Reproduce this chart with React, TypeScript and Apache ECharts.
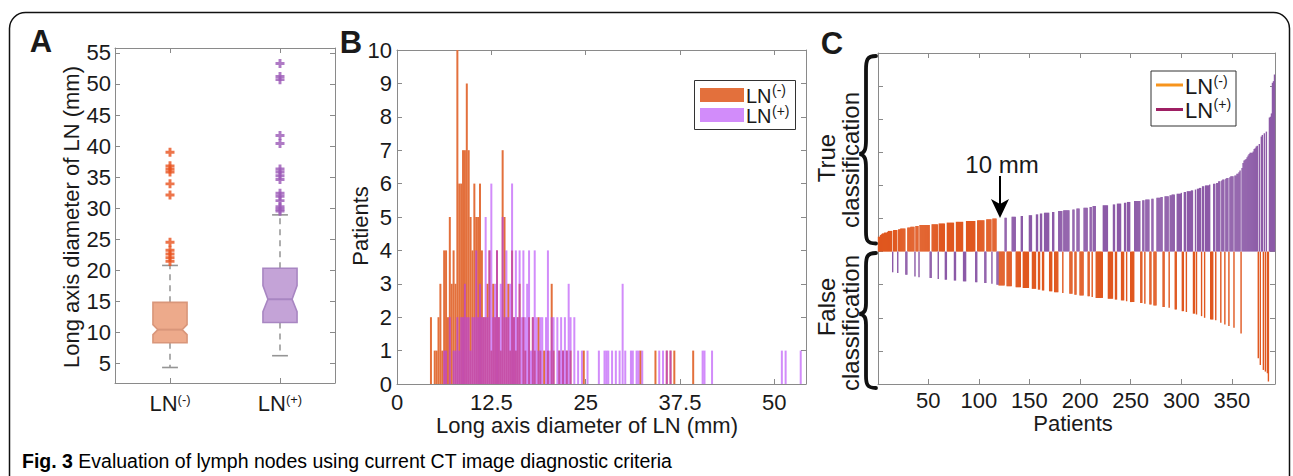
import React, { useEffect, useRef } from 'react';
import * as echarts from 'echarts';

const FONT = '"Liberation Sans", Arial, Helvetica, sans-serif';
const NARROW = '"Liberation Sans Narrow", "Liberation Sans", Arial, sans-serif';

// ---------- Panel A : notched box plots ----------
const boxCategories = ['LN(-)', 'LN(+)'];
const boxLow = [4.3, 6.2];
const boxQ1 = [8.3, 11.55];
const boxNotchLo = [9.6, 13.3];
const boxMedian = [10.4, 15.3];
const boxNotchHi = [11.2, 17.5];
const boxQ3 = [14.8, 20.3];
const boxHigh = [20.75, 28.9];
const outliersNeg = [21.4, 22.0, 22.6, 23.2, 24.5, 32.1, 33.9, 35.8, 36.3, 36.8, 39.0];
const outliersPos = [29.5, 29.8, 30.2, 31.2, 31.9, 32.4, 34.6, 35.2, 35.8, 36.3, 40.4, 41.7, 50.7, 51.2, 53.3];
const yTicksA = [5, 10, 15, 20, 25, 30, 35, 40, 45, 50, 55];

// ---------- Panel B : histogram (diameter mm, patient count) ----------
const histNeg: [number, number][] = [
  [4.5, 2], [5.0, 1], [5.25, 1], [5.5, 2], [5.75, 3], [6.0, 1], [6.25, 4], [6.5, 4], [6.75, 2],
  [7.0, 5], [7.25, 3], [7.5, 4], [7.75, 3], [8.0, 10], [8.25, 6], [8.5, 6], [8.75, 7], [9.0, 7],
  [9.25, 9], [9.5, 7], [9.75, 5], [10.0, 4], [10.25, 6], [10.5, 5], [10.75, 5], [11.0, 6],
  [11.25, 4], [11.5, 2], [11.75, 2], [12.0, 3], [12.25, 4], [12.5, 1], [12.75, 3], [13.0, 2],
  [13.25, 4], [13.5, 2], [13.75, 1], [14.0, 7], [14.25, 5], [14.5, 2], [14.75, 3], [15.0, 1],
  [15.25, 4], [15.5, 2], [15.75, 1], [16.0, 2], [16.25, 3], [16.75, 2], [17.0, 1], [17.5, 2],
  [18.0, 2], [18.25, 1], [18.75, 2], [19.0, 1], [19.5, 1], [20.0, 1], [20.5, 3], [20.75, 1],
  [21.5, 1], [22.0, 1], [22.5, 1], [23.0, 1], [24.75, 1], [32.25, 1], [34.25, 1], [35.75, 1],
  [36.25, 1], [36.75, 1], [39.25, 1],
];
const histPos: [number, number][] = [
  [6.25, 1], [6.5, 1], [7.0, 2], [7.5, 1], [7.75, 1], [8.0, 2], [8.25, 1], [8.5, 2], [8.75, 2],
  [9.0, 3], [9.25, 2], [9.5, 2], [9.75, 1], [10.0, 2], [10.25, 2], [10.5, 4], [10.75, 2],
  [11.0, 3], [11.25, 2], [11.5, 2], [11.75, 5], [12.0, 2], [12.25, 4], [12.5, 6], [12.75, 2],
  [13.0, 3], [13.25, 4], [13.5, 2], [13.75, 3], [14.0, 5], [14.25, 2], [14.5, 4], [14.75, 2],
  [15.0, 3], [15.25, 6], [15.5, 2], [15.75, 4], [16.0, 2], [16.25, 4], [16.5, 2], [16.75, 4],
  [17.0, 2], [17.25, 3], [17.5, 4], [17.75, 1], [18.0, 2], [18.25, 4], [18.5, 2], [18.75, 1],
  [19.0, 2], [19.25, 2], [19.75, 2], [20.0, 4], [20.25, 1], [20.5, 2], [20.75, 2], [21.25, 2],
  [21.5, 1], [21.75, 2], [22.0, 1], [22.25, 2], [22.5, 1], [22.75, 3], [23.0, 2], [23.5, 2],
  [24.0, 1], [24.5, 1], [25.25, 1], [26.75, 1], [27.5, 1], [27.75, 1], [28.0, 1], [28.5, 1],
  [29.0, 1], [29.5, 1], [29.9, 3], [30.25, 1], [31.0, 1], [31.25, 1], [31.75, 1], [32.0, 1],
  [32.5, 1], [34.75, 1], [35.25, 1], [35.75, 1], [36.25, 1], [40.5, 1], [40.75, 1], [41.75, 1],
  [51.0, 1], [51.5, 1], [53.5, 1],
];
const xTicksB = [0, 12.5, 25, 37.5, 50];

// ---------- Panel C : patients sorted by diameter ----------
const xTicksC = [50, 100, 150, 200, 250, 300, 350];
const thresholdMm = 10;

// colours
const boxFill = ['#EDAA8B', '#C4A3D7'];
const boxStroke = ['#D9967A', '#A886C2'];
const outlierColor = ['#E8531E', '#9B59B6'];
const histNegColor = '#E3703C';
const histPosColor = 'rgba(178,57,247,0.58)';
const barNegColor = '#E0571F';
const barPosColor = '#8C5AA7';
const axisGray = '#8a8a8a';
const textColor = '#1a1a1a';

const braceTrueD =
  'M876,56 C867,56 866,60 866,70 L866,140 C866,149 865,153 859.5,154 C865,155 866,159 866,168 L866,232 C866,240 867,243.5 876,243.5';
const braceFalseD =
  'M876,253 C867,253 866,257 866,266 L866,303 C866,310 865,313 859.5,314 C865,315 866,318 866,325 L866,376 C866,384 867,388 876,388';

let shapesRegistered = false;
function registerShapes() {
  if (shapesRegistered) return;
  echarts.graphic.registerShape('braceTrue', echarts.graphic.extendPath(braceTrueD, {}));
  echarts.graphic.registerShape('braceFalse', echarts.graphic.extendPath(braceFalseD, {}));
  shapesRegistered = true;
}

const plusSymbol = 'path://M-1.3,-4H1.3V-1.3H4V1.3H1.3V4H-1.3V1.3H-4V-1.3H-1.3Z';

const supRich = {
  m: { fontSize: 22, fontFamily: FONT, color: textColor, lineHeight: 20 },
  s: { fontSize: 13, fontFamily: FONT, color: textColor, verticalAlign: 'top', lineHeight: 12 },
};
function supLabel(v: string) {
  const m = v.match(/^(.*?)(\(.*\))$/);
  return m ? `{m|${m[1]}}{s|${m[2]}}` : `{m|${v}}`;
}
function splitSup(v: string): [string, string] {
  const m = v.match(/^(.*?)(\(.*\))$/);
  return m ? [m[1], m[2]] : [v, ''];
}

const lineStyle = { color: axisGray, width: 1 };

function valAxis(grid: number, min: number, max: number, extra: any = {}) {
  return {
    gridIndex: grid,
    type: 'value',
    min,
    max,
    axisLine: { show: true, onZero: false, lineStyle },
    axisTick: { show: true, inside: true, length: 5, lineStyle, ...(extra.tick || {}) },
    axisLabel: {
      show: extra.labels !== false,
      color: textColor,
      fontSize: 22,
      lineHeight: 20,
      fontFamily: FONT,
      margin: extra.margin ?? 6,
      ...(extra.label || {}),
    },
    splitLine: { show: false },
    position: extra.position,
    interval: extra.interval,
  };
}

export default function App() {
  const ref = useRef<HTMLDivElement>(null);

  useEffect(() => {
    if (!ref.current) return;
    registerShapes();
    const chart = echarts.init(ref.current, undefined, { renderer: 'svg', width: 1293, height: 476 });

    // Panel C patients: every histogram entry is a patient, sorted by diameter
    const patients: { d: number; cls: number }[] = [];
    histNeg.forEach(([d, n]) => { for (let k = 0; k < n; k++) patients.push({ d, cls: 0 }); });
    histPos.forEach(([d, n]) => { for (let k = 0; k < n; k++) patients.push({ d, cls: 1 }); });
    patients.sort((a, b) => a.d - b.d || a.cls - b.cls);
    const negC: [number, number][] = [];
    const posC: [number, number][] = [];
    patients.forEach((p, i) => {
      if (p.cls === 0) negC.push([i + 1, p.d <= thresholdMm ? p.d : -p.d]);
      else posC.push([i + 1, p.d > thresholdMm ? p.d : -p.d]);
    });
    const nPatients = patients.length;

    const boxData = boxCategories.map((_, i) => [
      i, boxLow[i], boxQ1[i], boxNotchLo[i], boxMedian[i], boxNotchHi[i], boxQ3[i], boxHigh[i],
    ]);

    const txt = (text: string, x: number, y: number, size: number, opts: any = {}) => ({
      type: 'text',
      x,
      y,
      rotation: opts.rotation || 0,
      z: opts.z || 100,
      style: {
        text,
        fill: opts.fill || textColor,
        font: `${opts.weight || 'normal'} ${size}px ${opts.family || FONT}`,
        lineHeight: opts.lineHeight,
        textAlign: opts.align || 'center',
        textVerticalAlign: 'middle',
        align: opts.align || 'center',
        verticalAlign: 'middle',
      },
    });

    // legend rows: main text plus raised superscript
    const legendRows = (x: number, ys: number[], size: number, labels: string[]) =>
      labels.flatMap((label, k) => {
        const [main, sup] = splitSup(label);
        return [
          txt(main, x, ys[k], size, { align: 'left', lineHeight: size, z: 101 }),
          txt(sup, x + size * 1.3, ys[k] - size * 0.27, 14, { align: 'left', lineHeight: 12, z: 101 }),
        ];
      });

    const option: any = {
      animation: false,
      textStyle: { fontFamily: FONT },
      grid: [
        { left: 115, top: 48, width: 220, height: 335 },
        { left: 397, top: 50, width: 409, height: 334 },
        { left: 878, top: 53, width: 397, height: 331 },
      ],
      xAxis: [
        {
          gridIndex: 0,
          type: 'category',
          data: boxCategories,
          axisLine: { show: true, onZero: false, lineStyle },
          axisTick: { show: true, inside: true, alignWithLabel: true, length: 5, lineStyle },
          axisLabel: { formatter: supLabel, rich: supRich, margin: 10 },
          splitLine: { show: false },
        },
        {
          gridIndex: 0,
          type: 'category',
          position: 'top',
          data: boxCategories,
          axisLine: { show: true, onZero: false, lineStyle },
          axisTick: { show: true, inside: true, alignWithLabel: true, length: 5, lineStyle },
          axisLabel: { show: false },
          splitLine: { show: false },
        },
        valAxis(1, 0, 54.2, {
          tick: { customValues: xTicksB },
          label: { customValues: xTicksB },
          margin: 8,
        }),
        valAxis(1, 0, 54.2, { position: 'top', labels: false, tick: { customValues: xTicksB } }),
        valAxis(2, 0.5, nPatients + 0.5, {
          tick: { customValues: xTicksC },
          label: { customValues: xTicksC },
          margin: 6,
        }),
        valAxis(2, 0.5, nPatients + 0.5, { position: 'top', labels: false, tick: { customValues: xTicksC } }),
      ],
      yAxis: [
        valAxis(0, 1.8, 55.8, {
          tick: { customValues: yTicksA },
          label: { customValues: yTicksA },
          margin: 4,
        }),
        valAxis(0, 1.8, 55.8, { position: 'right', labels: false, tick: { customValues: yTicksA } }),
        valAxis(1, 0, 10, { interval: 1, margin: 5 }),
        valAxis(1, 0, 10, { interval: 1, position: 'right', labels: false }),
        valAxis(2, -40, 60, { interval: 10, labels: false }),
        valAxis(2, -40, 60, { interval: 10, position: 'right', labels: false }),
      ],
      series: [
        {
          type: 'custom',
          xAxisIndex: 0,
          yAxisIndex: 0,
          data: boxData,
          encode: { x: 0, y: [1, 2, 3, 4, 5, 6, 7] },
          renderItem: (params: any, api: any) => {
            const i = api.value(0);
            const y = (v: number) => api.coord([i, v])[1];
            const cx = api.coord([i, api.value(4)])[0];
            const band = api.size([1, 0])[0];
            const hw = band * 0.155;
            const ni = band * 0.045;
            const cw = band * 0.072;
            const lo = api.value(1), q1 = api.value(2), nlo = api.value(3), med = api.value(4);
            const nhi = api.value(5), q3 = api.value(6), hi = api.value(7);
            const L = cx - hw, R = cx + hw;
            const pts = [
              [L, y(q3)], [R, y(q3)], [R, y(nhi)], [R - ni, y(med)], [R, y(nlo)], [R, y(q1)],
              [L, y(q1)], [L, y(nlo)], [L + ni, y(med)], [L, y(nhi)],
            ];
            const wStyle = { stroke: '#9a9a9a', lineWidth: 1.6, lineDash: [6, 5] };
            const cStyle = { stroke: '#959595', lineWidth: 1.6 };
            return {
              type: 'group',
              children: [
                { type: 'line', shape: { x1: cx, y1: y(q3), x2: cx, y2: y(hi) }, style: wStyle },
                { type: 'line', shape: { x1: cx, y1: y(q1), x2: cx, y2: y(lo) }, style: wStyle },
                { type: 'line', shape: { x1: cx - cw, y1: y(hi), x2: cx + cw, y2: y(hi) }, style: cStyle },
                { type: 'line', shape: { x1: cx - cw, y1: y(lo), x2: cx + cw, y2: y(lo) }, style: cStyle },
                { type: 'polygon', shape: { points: pts }, style: { fill: boxFill[i], stroke: boxStroke[i], lineWidth: 1.6 } },
                { type: 'line', shape: { x1: L + ni, y1: y(med), x2: R - ni, y2: y(med) }, style: { stroke: boxStroke[i], lineWidth: 2 } },
              ],
            };
          },
        },
        {
          type: 'scatter',
          xAxisIndex: 0,
          yAxisIndex: 0,
          symbol: plusSymbol,
          symbolSize: 9,
          itemStyle: { color: outlierColor[0] },
          data: outliersNeg.map((v) => [0, v]),
        },
        {
          type: 'scatter',
          xAxisIndex: 0,
          yAxisIndex: 0,
          symbol: plusSymbol,
          symbolSize: 9,
          itemStyle: { color: outlierColor[1] },
          data: outliersPos.map((v) => [1, v]),
        },
        {
          name: 'LN(-)',
          type: 'bar',
          xAxisIndex: 2,
          yAxisIndex: 2,
          barWidth: 2,
          barGap: '-100%',
          itemStyle: { color: histNegColor },
          data: histNeg,
        },
        {
          name: 'LN(+)',
          type: 'bar',
          xAxisIndex: 2,
          yAxisIndex: 2,
          barWidth: 2,
          barGap: '-100%',
          itemStyle: { color: histPosColor },
          data: histPos,
        },
        {
          name: 'LN(-) patients',
          type: 'bar',
          xAxisIndex: 4,
          yAxisIndex: 4,
          barWidth: 1.4,
          barGap: '-100%',
          itemStyle: { color: barNegColor },
          data: negC,
        },
        {
          name: 'LN(+) patients',
          type: 'bar',
          xAxisIndex: 4,
          yAxisIndex: 4,
          barWidth: 1.4,
          barGap: '-100%',
          itemStyle: { color: barPosColor },
          data: posC,
        },
      ],
      graphic: [
        {
          type: 'rect',
          z: 100,
          shape: { x: 9.5, y: 12.5, width: 1280, height: 520, r: 16 },
          style: { fill: 'none', stroke: '#111', lineWidth: 1.5 },
        },
        txt('A', 41, 41, 31, { weight: 'bold' }),
        txt('B', 351, 42, 31, { weight: 'bold' }),
        txt('C', 832, 43, 31, { weight: 'bold' }),
        txt('Long axis diameter of LN (mm)', 71, 217, 22, { rotation: Math.PI / 2 }),
        txt('Patients', 360, 226, 22, { rotation: Math.PI / 2 }),
        txt('Long axis diameter of LN (mm)', 587, 425, 22),
        txt('Patients', 1073, 423, 22),
        txt('True', 826, 158, 24, { rotation: Math.PI / 2 }),
        txt('classification', 850, 160, 24, { rotation: Math.PI / 2 }),
        txt('False', 826, 307, 24, { rotation: Math.PI / 2 }),
        txt('classification', 850, 323, 24, { rotation: Math.PI / 2 }),
        { type: 'braceTrue', z: 100, style: { fill: 'none', stroke: '#111', lineWidth: 3.8, lineCap: 'round' } },
        { type: 'braceFalse', z: 100, style: { fill: 'none', stroke: '#111', lineWidth: 3.8, lineCap: 'round' } },
        txt('10 mm', 1002, 164, 24),
        { type: 'line', z: 100, shape: { x1: 1000, y1: 176, x2: 1000, y2: 205 }, style: { stroke: '#000', lineWidth: 2 } },
        {
          type: 'polygon',
          z: 100,
          shape: { points: [[991, 199], [1000, 204], [1009, 199], [1000, 218]] },
          style: { fill: '#000' },
        },
        // legend B
        {
          type: 'rect', z: 100,
          shape: { x: 694.5, y: 80.5, width: 101, height: 49 },
          style: { fill: '#fff', stroke: '#333', lineWidth: 1 },
        },
        { type: 'rect', z: 101, shape: { x: 700, y: 88, width: 44, height: 14 }, style: { fill: histNegColor } },
        { type: 'rect', z: 101, shape: { x: 700, y: 108, width: 44, height: 14 }, style: { fill: histPosColor } },
        ...legendRows(746, [95.5, 116], 20, ['LN(-)', 'LN(+)']),
        // legend C
        {
          type: 'rect', z: 100,
          shape: { x: 1151, y: 71, width: 85, height: 55 },
          style: { fill: '#fff', stroke: '#333', lineWidth: 1 },
        },
        { type: 'line', z: 101, shape: { x1: 1156, y1: 85, x2: 1183, y2: 85 }, style: { stroke: '#F7941D', lineWidth: 3 } },
        { type: 'line', z: 101, shape: { x1: 1156, y1: 109.5, x2: 1183, y2: 109.5 }, style: { stroke: '#9E1F63', lineWidth: 3 } },
        ...legendRows(1185, [86.5, 110], 22, ['LN(-)', 'LN(+)']),
        // caption
        {
          type: 'text',
          x: 22,
          y: 461,
          z: 100,
          style: {
            text: '{b|Fig. 3 }{n|Evaluation of lymph nodes using current CT image diagnostic criteria}',
            textVerticalAlign: 'middle',
            verticalAlign: 'middle',
            rich: {
              b: { fontSize: 19.5, fontWeight: 'bold', fontFamily: NARROW, color: '#231F20' },
              n: { fontSize: 19.5, fontFamily: NARROW, color: '#231F20' },
            },
          },
        },
      ],
    };

    chart.setOption(option);
    return () => chart.dispose();
  }, []);

  return (
    <div
      ref={ref}
      style={{ position: 'fixed', left: 0, top: 0, width: 1293, height: 476, background: '#fff' }}
    />
  );
}
